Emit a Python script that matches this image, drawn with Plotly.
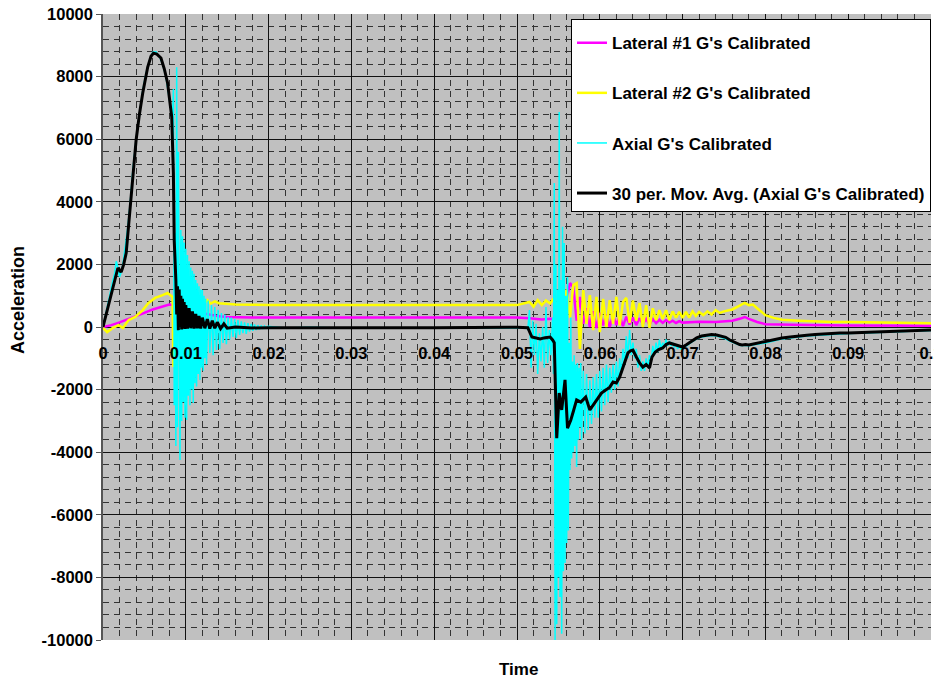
import plotly.graph_objects as go

# ---------------- data ----------------
lat1_t = [0, 0.001, 0.002, 0.003, 0.004, 0.005, 0.006, 0.007, 0.0075, 0.008, 0.0084, 0.009,
          0.010, 0.011, 0.012, 0.013, 0.014, 0.015, 0.016, 0.018, 0.020, 0.025, 0.030, 0.035,
          0.040, 0.045, 0.050, 0.0515, 0.052, 0.053, 0.054, 0.0545,
          0.0548, 0.0552, 0.0556, 0.0560, 0.0564, 0.0568, 0.0572, 0.0576, 0.0580, 0.0584,
          0.0588, 0.0592, 0.0596, 0.0600, 0.0604, 0.0608, 0.0612, 0.0616, 0.0620, 0.0624,
          0.0628, 0.0632, 0.0636, 0.0640, 0.0644, 0.0648, 0.0652, 0.0656, 0.0660, 0.0664,
          0.0668, 0.0672, 0.0676, 0.0680, 0.0684, 0.0688, 0.0692, 0.0696, 0.0700,
          0.072, 0.074, 0.076, 0.077, 0.0775, 0.078, 0.079, 0.080, 0.082, 0.085, 0.090, 0.095, 0.100]
lat1_g = [0, 60, 150, 250, 330, 450, 560, 650, 700, 720, 700, 650,
          580, 500, 440, 380, 340, 320, 310, 300, 300, 300, 310, 300,
          300, 310, 300, 280, 260, 240, 260, 250,
          200, 500, 150, 900, 1400, 1280, 200, 960, 100, 600,
          0, 500, -30, 450, 50, 400, 0, 380, 60, 350,
          30, 330, 80, 300, 60, 280, 100, 260, 80, 250,
          120, 230, 130, 220, 140, 200, 130, 190, 140,
          170, 160, 200, 270, 320, 260, 160, 90, 70, 60, 50, 40, 40]

lat2_t = [0, 0.0005, 0.0012, 0.0019, 0.0024, 0.0031, 0.0039, 0.0048, 0.0055, 0.0063, 0.0072,
          0.0078, 0.0081, 0.0084, 0.0085, 0.0086, 0.0088, 0.0090, 0.0093, 0.0096, 0.0100,
          0.0103, 0.0106, 0.0110, 0.0114, 0.0118, 0.0122, 0.0126, 0.0130, 0.0135, 0.014,
          0.015, 0.016, 0.018, 0.020, 0.025, 0.030, 0.035, 0.040, 0.045, 0.050, 0.0515,
          0.0520, 0.0525, 0.0530, 0.0535, 0.0540, 0.0544,
          0.0548, 0.0552, 0.0556, 0.0560, 0.0564, 0.0568, 0.0572, 0.0576, 0.0580, 0.0584,
          0.0588, 0.0592, 0.0596, 0.0600, 0.0604, 0.0608, 0.0612, 0.0616, 0.0620, 0.0624,
          0.0628, 0.0632, 0.0636, 0.0640, 0.0644, 0.0648, 0.0652, 0.0656, 0.0660, 0.0664,
          0.0668, 0.0672, 0.0676, 0.0680, 0.0684, 0.0688, 0.0692, 0.0696, 0.0700, 0.0704,
          0.0708, 0.0712, 0.0716, 0.0720,
          0.0725, 0.073, 0.0735, 0.074, 0.0745, 0.075, 0.076, 0.077, 0.0775, 0.078, 0.0785,
          0.079, 0.080, 0.081, 0.082, 0.084, 0.086, 0.088, 0.090, 0.092, 0.095, 0.098, 0.100]
lat2_g = [-30, -160, -30, 60, -30, 220, 320, 540, 770, 930, 1020,
          1085, 1020, 960, -1280, 300, 700, 1000, 600, 900, 700,
          950, 750, 960, 800, 900, 760, 860, 750, 820, 760,
          730, 720, 710, 700, 700, 710, 700, 700, 710, 700, 800,
          650, 860, 700, 850, 750, 900,
          600, 1000, 500, 1200, 300, 1340, 1400, -700, 1180, 100,
          1020, -100, 960, -160, 900, 0, 860, 100, 960, 50,
          800, 930, 130, 850, 200, 770, 0, 700, -30, 600,
          220, 540, 250, 540, 220, 500, 300, 480, 290, 480,
          300, 500, 350, 480,
          380, 500, 400, 540, 450, 500, 560, 700, 770, 700, 720,
          600, 380, 290, 230, 200, 170, 160, 160, 150, 140, 130, 120]

axial_t = [0, 0.0003, 0.0006, 0.0009, 0.0012, 0.0014, 0.0016, 0.0018, 0.0020, 0.0022, 0.0024,
           0.0027, 0.0030, 0.0033, 0.0036, 0.0040, 0.0044, 0.0048, 0.0052, 0.0056, 0.0060,
           0.0064, 0.0068, 0.0072, 0.0076, 0.0079, 0.0082, 0.0084,
           0.0085, 0.0086, 0.0087, 0.0088, 0.0089, 0.0090, 0.0091, 0.0092, 0.0093, 0.0094,
           0.0095, 0.0096, 0.0097, 0.0098, 0.0099, 0.0100, 0.0101, 0.0102, 0.0103, 0.0104,
           0.0105, 0.0106, 0.0107, 0.0108, 0.0109, 0.0110, 0.0111, 0.0112, 0.0113, 0.0114,
           0.0115, 0.0116, 0.0117, 0.0118, 0.0119, 0.0120, 0.0121, 0.0122, 0.0123, 0.0124,
           0.0125,
           0.0127, 0.0129, 0.0131, 0.0133, 0.0135, 0.0137, 0.0139, 0.0141, 0.0143, 0.0145,
           0.0147, 0.0149, 0.0151, 0.0153, 0.0155, 0.0157, 0.0159, 0.0161, 0.0163, 0.0165,
           0.0167, 0.0169, 0.0171, 0.0173, 0.0175, 0.0177, 0.0179, 0.0181, 0.0183, 0.0185,
           0.0187, 0.0189, 0.0191, 0.0193, 0.0195, 0.0197, 0.0199,
           0.022, 0.025, 0.030, 0.035, 0.040, 0.045, 0.050, 0.0512,
           0.0513, 0.0515, 0.0517, 0.0519, 0.0521, 0.0523, 0.0525, 0.0527, 0.0529, 0.0531,
           0.0533, 0.0535, 0.0537, 0.0539, 0.0541, 0.0543,
           0.0544, 0.0545, 0.0546, 0.0547, 0.0548, 0.0549, 0.0550, 0.0551, 0.0552, 0.0553,
           0.0554, 0.0555, 0.0556, 0.0557, 0.0558, 0.0559, 0.0560, 0.0561, 0.0562, 0.0563,
           0.0564, 0.0565, 0.0566, 0.0567, 0.0568, 0.0569, 0.0570, 0.0571, 0.0572, 0.0573,
           0.0574, 0.0575, 0.0576, 0.0577, 0.0578,
           0.0580, 0.0582, 0.0584, 0.0586, 0.0588, 0.0590, 0.0592, 0.0594, 0.0596, 0.0598,
           0.0600, 0.0602, 0.0604, 0.0606, 0.0608, 0.0610, 0.0612, 0.0614, 0.0616, 0.0618,
           0.0620, 0.0622, 0.0624, 0.0626, 0.0628, 0.0630, 0.0632, 0.0634, 0.0636, 0.0638,
           0.0640, 0.0642, 0.0644, 0.0646, 0.0648, 0.0650, 0.0652, 0.0654, 0.0656, 0.0658,
           0.0660, 0.0662, 0.0664, 0.0666, 0.0668, 0.0670, 0.0672, 0.0674, 0.0676, 0.0678,
           0.0680, 0.0682, 0.0684, 0.0686, 0.0688, 0.0690, 0.0692, 0.0694, 0.0696, 0.0698,
           0.0700,
           0.0705, 0.0710, 0.0717, 0.0723, 0.0729, 0.0735, 0.0741, 0.0747, 0.0752, 0.0757,
           0.0761, 0.0765, 0.0770, 0.0776, 0.0780, 0.0786, 0.0793, 0.080, 0.081, 0.082,
           0.083, 0.084, 0.085, 0.086, 0.087, 0.088, 0.089, 0.090, 0.092, 0.094, 0.096,
           0.098, 0.100]
axial_g = [0, 400, 800, 1100, 1500, 1700, 2100, 1900, 1600, 1750, 2000,
           2600, 3200, 4000, 5000, 6000, 6850, 7550, 8100, 8500, 8780,
           8790, 8650, 8400, 8000, 7500, 7000, 6600,
           7600, -2500, 3000, -3800, 8300, -3200, 5600, -2800, -4250, 3100,
           -3000, 2900, -2400, 2700, -2900, 2500, -2970, 2300, -2200, 2100,
           -2500, 1900, -2000, 1800, -2430, 1700, -1800, 1500, -1900, 1400,
           -1500, 1300, -1690, 1200, -1300, 1180, -1400, 1000, -1000, 900,
           -1200,
           850, -830, 700, -900, 640, -735, 550, -700, 450, -510,
           400, -550, 320, -400, 300, -320, 250, -350, 220, -250,
           180, -200, 150, -220, 120, -150, 100, -120, 80, -100,
           60, -80, 50, -60, 30, -40, 20,
           -30, -10, -40, -20, -30, -20, -30, -20,
           -100, 540, -1300, 200, -900, 100, -1500, -200, -1100, 0,
           -1300, 640, -1150, -100, -900, 300,
           -1500, 4600, -10000, 2000, -9500, 1200, -8000, 6870, -8630, 1500,
           -9800, 3200, -7800, 2680, -7540, 1000, -6900, 1600, -6500, -500,
           -4570, 300, -4200, -1100, -4000, -900, -3800, -1200, -4470, -1150,
           -3600, -1300, -3200, -1150, -3610,
           -1400, -3400, -1500, -3290, -1700, -3100, -1600, -2900, -1500, -2900,
           -1400, -2700, -1300, -2500, -1200, -2400, -1300, -2100, -1200, -2000,
           -1100, -1900, -1000, -1500, -700, -1200, -300, -1000, -96, -900,
           -500, -1000, -700, -1300, -900, -1400, -1100, -1400, -1000, -1300,
           -900, -1100, -600, -900, -500, -800, -400, -700, -500, -650,
           -400, -600, -450, -600, -500, -650, -550, -700, -600, -700,
           -650,
           -600, -500, -380, -320, -290, -270, -290, -330, -380, -450,
           -500, -540, -590, -590, -600, -570, -550, -510, -450, -380,
           -350, -310, -290, -270, -250, -230, -220, -210, -190, -170, -150,
           -130, -110]

mavg_t = [0, 0.0007, 0.0012, 0.0018, 0.0022, 0.0025, 0.0028, 0.0030, 0.0033, 0.0036, 0.0040,
          0.0044, 0.0048, 0.0054, 0.0058, 0.0061, 0.0065, 0.0070, 0.0074, 0.0078, 0.0081,
          0.0083, 0.0085, 0.0086, 0.0088, 0.0089, 0.0090, 0.0091, 0.0092, 0.0093, 0.0094,
          0.0095, 0.0096, 0.0097, 0.0098, 0.0099, 0.0100, 0.0102, 0.0104, 0.0106, 0.0108,
          0.0110, 0.0112, 0.0114, 0.0116, 0.0118, 0.0120, 0.0123, 0.0126, 0.0129, 0.0132,
          0.0135, 0.0138, 0.0142, 0.0146, 0.0150, 0.016, 0.018, 0.020, 0.030, 0.040, 0.050,
          0.0513, 0.0518, 0.0523, 0.0528, 0.0534, 0.0540, 0.0543, 0.0545, 0.0548, 0.0551,
          0.0554, 0.0558, 0.0561, 0.0565, 0.0568, 0.0572, 0.0577, 0.0583, 0.0588, 0.0593,
          0.0596, 0.0602, 0.0608, 0.0612, 0.0616, 0.0620, 0.0624, 0.0627, 0.0631, 0.0634,
          0.0637, 0.0640, 0.0644, 0.0648, 0.0652, 0.0656, 0.0660, 0.0663, 0.0667, 0.0671,
          0.0676, 0.0680, 0.0684, 0.0688, 0.0692, 0.0696, 0.0700, 0.0705, 0.0710, 0.0717,
          0.0723, 0.0729, 0.0735, 0.0741, 0.0747, 0.0752, 0.0757, 0.0761, 0.0765, 0.0769,
          0.0772, 0.0776, 0.0780, 0.0786, 0.0793, 0.0800, 0.0810, 0.0820, 0.0830, 0.0840,
          0.0850, 0.0860, 0.0870, 0.0880, 0.0890, 0.0900, 0.0920, 0.0940, 0.0960, 0.0980,
          0.1000]
mavg_g = [0, 770, 1300, 1885, 1760, 2000, 2360, 3000, 4000, 4920, 5975,
          6800, 7476, 8307, 8650, 8750, 8720, 8594, 8250, 7796, 7200,
          6710, 4920, 2780, 1500, 400, 1300, -100, 1200, 0, 1000,
          -80, 900, -50, 800, -60, 700, -50, 600, -40, 500,
          -50, 420, -40, 350, -50, 300, -40, 250, -50, 200,
          -40, 150, -50, 100, -40, 0, -30, -20, -30, -20, -10,
          -20, -320, -360, -380, -340, -320, -415, -500, -3550, -2110,
          -2650, -1690, -3230, -2970, -2700, -2330, -2400, -2240, -2650, -2450,
          -2330, -2110, -2000, -1920, -1760, -1790, -1600, -1370, -1000, -830,
          -760, -735, -950, -1150, -1280, -1200, -1310, -960, -800, -720,
          -670, -560, -510, -540, -575, -600, -640, -560, -480, -350,
          -290, -255, -240, -255, -300, -330, -415, -470, -510, -560,
          -575, -560, -575, -540, -520, -480, -420, -350, -320, -280,
          -260, -240, -220, -200, -190, -190, -170, -150, -130, -110,
          -95]

x_ticks = [0, 0.01, 0.02, 0.03, 0.04, 0.05, 0.06, 0.07, 0.08, 0.09, 0.1]
x_tick_text = ["0", "0.01", "0.02", "0.03", "0.04", "0.05", "0.06", "0.07", "0.08", "0.09", "0.1"]
y_ticks = [-10000, -8000, -6000, -4000, -2000, 0, 2000, 4000, 6000, 8000, 10000]
y_tick_text = ["-10000", "-8000", "-6000", "-4000", "-2000", "0",
               "2000", "4000", "6000", "8000", "10000"]

FONT = "Arial, Liberation Sans, sans-serif"
TICKFONT = dict(family=FONT, size=16.5, color="black", weight="bold")

fig = go.Figure()
fig.add_trace(go.Scatter(x=lat1_t, y=lat1_g, mode="lines", name="Lateral #1 G's Calibrated",
                         legendgroup="a", line=dict(color="#FF00FF", width=2.5)))
fig.add_trace(go.Scatter(x=lat2_t, y=lat2_g, mode="lines", name="Lateral #2 G's Calibrated",
                         legendgroup="b", line=dict(color="#FFFF00", width=2.5)))
fig.add_trace(go.Scatter(x=axial_t, y=axial_g, mode="lines", name="Axial G's Calibrated",
                         legendgroup="c", line=dict(color="#00FFFF", width=1.5)))
fig.add_trace(go.Scatter(x=mavg_t, y=mavg_g, mode="lines",
                         name="30 per. Mov. Avg. (Axial G's Calibrated)",
                         legendgroup="d", line=dict(color="#000000", width=3)))

fig.update_layout(
    width=934, height=680,
    margin=dict(l=103, r=3, t=14, b=40),
    paper_bgcolor="white",
    plot_bgcolor="#C0C0C0",
    font=dict(family=FONT, size=16, color="black"),
    showlegend=True,
    legend=dict(x=(571 - 103) / 828, y=(640 - 19) / 626, xanchor="left", yanchor="top",
                bgcolor="white", bordercolor="black", borderwidth=1,
                font=dict(family=FONT, size=17, color="black", weight="bold"),
                title=dict(text=" ", font=dict(size=4)),
                tracegroupgap=25, traceorder="grouped"),
)

fig.update_xaxes(
    range=[0, 0.1], tickvals=x_ticks, ticktext=x_tick_text,
    anchor="free", position=0.5, side="bottom", automargin=False,
    showline=False, zeroline=False, ticks="", ticklabelstandoff=14,
    ticklabeloverflow="allow",
    tickfont=TICKFONT,
    showgrid=True, gridcolor="#111111", gridwidth=1,
    minor=dict(dtick=0.002, showgrid=True, gridcolor="#333333", griddash="6px,5px", gridwidth=1),
)
fig.update_yaxes(
    range=[-10000, 10000], tickvals=y_ticks, ticktext=y_tick_text, automargin=False,
    showline=True, linecolor="#555555", linewidth=1.5,
    ticks="outside", ticklen=5, tickcolor="#555555",
    zeroline=False, ticklabeloverflow="allow",
    tickfont=TICKFONT,
    showgrid=True, gridcolor="#111111", gridwidth=1,
    minor=dict(dtick=400, showgrid=True, gridcolor="#333333", griddash="6px,5px", gridwidth=1),
)

fig.add_annotation(text="Acceleration", xref="paper", yref="paper",
                   x=(18 - 103) / 828, y=(640 - 300) / 626,
                   xanchor="center", yanchor="middle",
                   textangle=-90, showarrow=False,
                   font=dict(family=FONT, size=18, color="black", weight="bold"))
fig.add_annotation(text="Time", xref="paper", yref="paper",
                   x=(518 - 103) / 828, y=(640 - 669) / 626,
                   xanchor="center", yanchor="middle",
                   showarrow=False,
                   font=dict(family=FONT, size=17, color="black", weight="bold"))

fig.write_html("out.html", config={"displayModeBar": False},
               post_script="document.body.style.margin='0px';document.body.style.overflow='hidden';")
